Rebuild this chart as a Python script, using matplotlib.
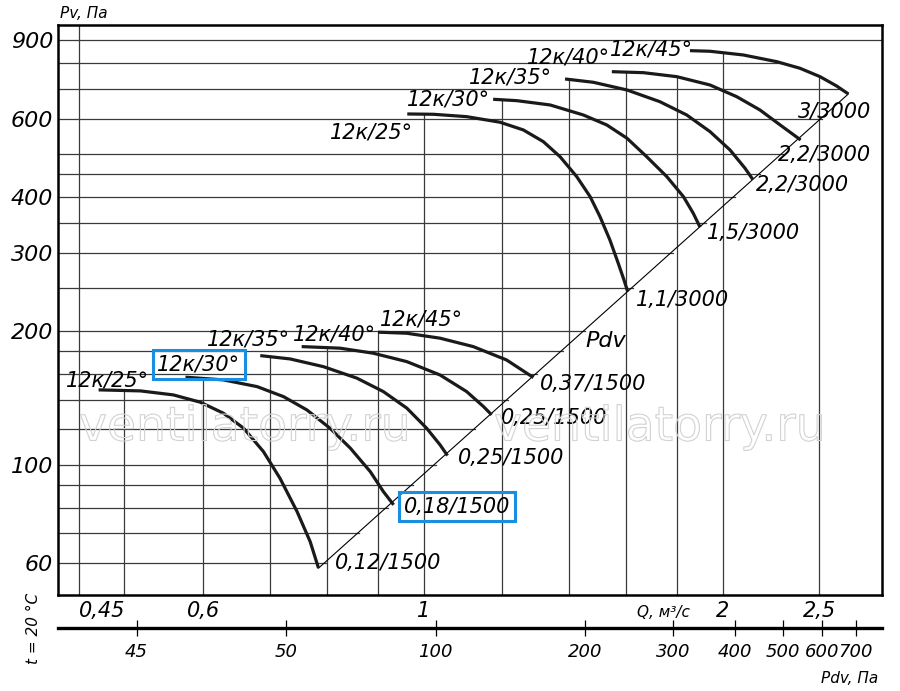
import numpy as np
import matplotlib.pyplot as plt
from matplotlib import patheffects
from matplotlib.ticker import NullLocator

plt.rcParams['font.family'] = ['DejaVu Sans']
plt.rcParams['font.style'] = 'italic'

# curves at 1500 rpm: Q, m3/s and Pv, Pa
q25_1500 = [0.471, 0.519, 0.560, 0.596, 0.629, 0.659, 0.690, 0.717, 0.746, 0.769, 0.784]
p25_1500 = [147.3, 146.5, 143.5, 138.2, 130.5, 120.8, 107.0, 93.2, 78.4, 67.1, 58.5]
q30_1500 = [0.576, 0.629, 0.680, 0.723, 0.763, 0.805, 0.844, 0.884, 0.911, 0.933]
p30_1500 = [157.3, 155.1, 149.8, 142.2, 132.8, 120.8, 108.9, 96.4, 87.0, 81.2]
q35_1500 = [0.685, 0.734, 0.793, 0.857, 0.911, 0.962, 1.007, 1.039, 1.057]
p35_1500 = [175.9, 172.9, 166.1, 156.5, 146.0, 134.0, 120.8, 110.8, 104.8]
q40_1500 = [0.754, 0.824, 0.890, 0.962, 1.039, 1.105, 1.149, 1.171]
p40_1500 = [184.3, 182.8, 178.1, 170.5, 159.1, 146.0, 135.1, 129.4]
q45_1500 = [0.900, 0.962, 1.039, 1.122, 1.212, 1.290]
p45_1500 = [198.6, 197.5, 192.5, 184.3, 172.0, 157.0]

# curves at 3000 rpm
q25_3000 = [0.963, 1.023, 1.105, 1.194, 1.260, 1.320, 1.372, 1.426, 1.471,
            1.505, 1.540, 1.570, 1.591, 1.605]
p25_3000 = [615.0, 614.0, 606.5, 589.2, 566.2, 532.8, 492.9, 444.6, 400.8,
            361.4, 320.2, 283.9, 260.4, 245.0]
q30_3000 = [1.175, 1.241, 1.341, 1.448, 1.529, 1.602, 1.677, 1.757, 1.826, 1.868, 1.898]
p30_3000 = [663.6, 658.9, 644.3, 611.8, 580.9, 542.5, 492.9, 444.6, 400.8, 367.8, 342.0]
q35_3000 = [1.388, 1.482, 1.602, 1.729, 1.840, 1.942, 2.034, 2.106, 2.144]
p35_3000 = [737.2, 724.7, 696.4, 655.4, 611.8, 561.3, 510.5, 464.4, 438.5]
q40_3000 = [1.547, 1.664, 1.798, 1.942, 2.066, 2.180, 2.285, 2.396]
p40_3000 = [765.6, 761.7, 746.1, 714.6, 672.6, 628.0, 580.9, 537.5]
q45_3000 = [1.854, 1.942, 2.098, 2.267, 2.392, 2.506, 2.604, 2.676]
p45_3000 = [853.7, 851.0, 834.8, 806.3, 779.3, 746.1, 711.0, 682.2]

names = ['12к/25°', '12к/30°', '12к/35°', '12к/40°', '12к/45°']
motors_1500 = ['0,12/1500', '0,18/1500', '0,25/1500', '0,25/1500', '0,37/1500']
motors_3000 = ['1,1/3000', '1,5/3000', '2,2/3000', '2,2/3000', '3/3000']

q_ticks = [0.45, 0.6, 1, 2, 2.5]
q_labels = ['0,45', '0,6', '1', '2', '2,5']
pv_ticks = [60, 100, 200, 300, 400, 600, 900]
pv_labels = ['60', '100', '200', '300', '400', '600', '900']
q_grid = [0.45, 0.5, 0.6, 0.7, 0.8, 0.9, 1, 1.2, 1.4, 1.6, 1.8, 2, 2.5]
pv_grid = [60, 70, 80, 90, 100, 120, 140, 160, 180, 200, 250, 300, 350,
           400, 450, 500, 600, 700, 800, 900]
pdv_ticks = [25, 50, 100, 200, 300, 400, 500, 600, 700]
pdv_labels = ['45', '50', '100', '200', '300', '400', '500', '600', '700']
K_PDV = 94.5  # Pdv = K * Q^2

Q_MIN, Q_MAX = 0.4287, 2.891
P_MIN, P_MAX = 50.9, 975.0

curves_1500 = [(q25_1500, p25_1500), (q30_1500, p30_1500), (q35_1500, p35_1500),
               (q40_1500, p40_1500), (q45_1500, p45_1500)]
curves_3000 = [(q25_3000, p25_3000), (q30_3000, p30_3000), (q35_3000, p35_3000),
               (q40_3000, p40_3000), (q45_3000, p45_3000)]
all_curves = curves_1500 + curves_3000

# label offsets in pixels (name at curve start, motor at curve end)
name_off_1500 = [(-33, 3), (-28, 7), (-53, 10), (-9, 6), (2, 7)]
name_off_3000 = [(-77, -25), (-86, -6), (-96, -5), (-85, 8), (-80, -5)]
motor_off_1500 = [(16, -1), (10, -8), (10, -8), (9, -9), (7, -12)]
motor_off_3000 = [(8, -14), (7, -12), (3, -12), (-23, -21), (-50, -24)]

BLUE = '#1a8ee0'
GRID = '#3a3a3a'

fig = plt.figure(figsize=(9, 6.91), dpi=100)
ax = fig.add_axes([58 / 900, 96 / 691, 823.7 / 900, 570 / 691])
ax.set_xscale('log')
ax.set_yscale('log')
ax.set_xlim(Q_MIN, Q_MAX)
ax.set_ylim(P_MIN, P_MAX)

# diagonal Pdv line through curve ends
q_lo, p_lo = q25_1500[-1], p25_1500[-1]
q_hi, p_hi = q45_3000[-1], p45_3000[-1]

# horizontal grid: from left edge to the right-most curve / diagonal
for p in pv_grid:
    ends = []
    for q, pv in all_curves:
        if min(pv) <= p <= max(pv):
            ends.append(10 ** np.interp(np.log10(p), np.log10(pv[::-1]), np.log10(q[::-1])))
    if p_lo <= p <= p_hi:
        ends.append(np.sqrt(p / K_PDV))
    q_end = max(ends) if ends else Q_MAX
    ax.plot([Q_MIN, q_end], [p, p], color=GRID, lw=0.9, zorder=1)

# vertical grid: from bottom up to the top-most curve
for qv in q_grid:
    tops = []
    for q, pv in all_curves:
        if q[0] <= qv <= q[-1]:
            tops.append(10 ** np.interp(np.log10(qv), np.log10(q), np.log10(pv)))
    p_top = max(tops) if tops else P_MAX
    ax.plot([qv, qv], [P_MIN, p_top], color=GRID, lw=0.9, zorder=1)

ax.plot([q_lo, q_hi], [p_lo, p_hi], color='black', lw=0.8, zorder=2)

for curves, n_off, m_off, motors in [(curves_1500, name_off_1500, motor_off_1500, motors_1500),
                                     (curves_3000, name_off_3000, motor_off_3000, motors_3000)]:
    for i, (q, pv) in enumerate(curves):
        ax.plot(q, pv, color='#1a1a1a', lw=2.3, solid_capstyle='butt',
                solid_joinstyle='round', zorder=3)
        boxed = curves is curves_1500 and i == 1
        bb = dict(boxstyle='square,pad=0.22', fc='none', ec=BLUE, lw=2.2) if boxed else None
        ax.annotate(names[i], (q[0], pv[0]), xytext=n_off[i], textcoords='offset pixels',
                    ha='left', va='baseline', fontsize=15, bbox=bb, zorder=4)
        ax.annotate(motors[i], (q[-1], pv[-1]), xytext=m_off[i], textcoords='offset pixels',
                    ha='left', va='baseline', fontsize=15, bbox=bb, zorder=4)

p_lab = 184
ax.annotate('Pdv', (np.sqrt(p_lab / K_PDV), p_lab), xytext=(18, 0),
            textcoords='offset pixels', ha='left', va='baseline', fontsize=16)

ax.set_xticks(q_ticks, q_labels)
ax.set_yticks(pv_ticks, pv_labels)
ax.xaxis.set_minor_locator(NullLocator())
ax.yaxis.set_minor_locator(NullLocator())
ax.tick_params(axis='x', length=0, pad=4, labelsize=15)
ax.tick_params(axis='y', length=0, pad=3.5, labelsize=16)
ax.get_xticklabels()[0].set_ha('left')
for s in ax.spines.values():
    s.set_linewidth(1.8)

# dynamic pressure scale below
ax2 = fig.add_axes([58 / 900, 63 / 691, 823.7 / 900, 0.0005])
ax2.set_xscale('log')
ax2.set_xlim(K_PDV * Q_MIN ** 2, K_PDV * Q_MAX ** 2)
ax2.set_yticks([])
for side in ['left', 'right', 'top']:
    ax2.spines[side].set_visible(False)
ax2.spines['bottom'].set_linewidth(2.4)
ax2.set_xticks(pdv_ticks, pdv_labels)
ax2.xaxis.set_minor_locator(NullLocator())
ax2.tick_params(axis='x', direction='inout', length=12, width=0.9, pad=5, labelsize=13)
ax2.patch.set_visible(False)

fig.text(60 / 900, 1 - 18 / 691, 'Pv, Па', fontsize=11, ha='left', va='baseline')
fig.text(637 / 900, 1 - 617 / 691, 'Q, м³/с', fontsize=11, ha='left', va='baseline')
fig.text(878 / 900, 1 - 683 / 691, 'Pdv, Па', fontsize=11, ha='right', va='baseline')
fig.text(34 / 900, 1 - 628 / 691, 't = 20 °C', fontsize=11, rotation=90,
         ha='center', va='center')

for xc in [245, 660]:
    fig.text(xc / 900, 1 - 428 / 691, 'ventilatorry.ru', fontsize=34, style='normal',
             color='none', ha='center', va='center', zorder=5,
             path_effects=[patheffects.Stroke(linewidth=0.8, foreground='#d2d2d2')])

fig.savefig('out.png', dpi=100)
